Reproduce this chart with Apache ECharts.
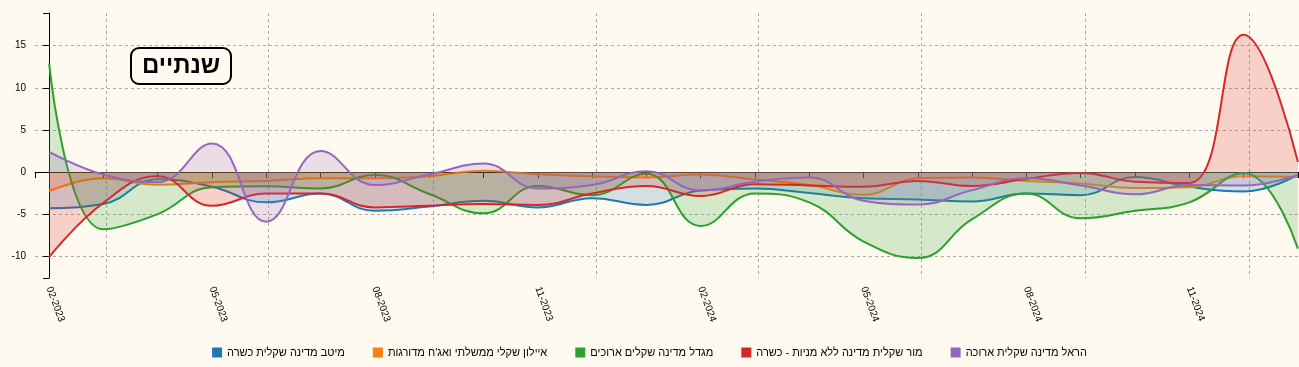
<!DOCTYPE html>
<html><head><meta charset="utf-8">
<script src="https://cdn.jsdelivr.net/npm/echarts@6/dist/echarts.min.js"></script>
<style>html,body{margin:0;padding:0;background:#fffaf0;} #c{width:1299px;height:367px;}</style>
</head><body><div id="c"></div>
<script>
const months = ['02-2023','03-2023','04-2023','05-2023','06-2023','07-2023','08-2023','09-2023','10-2023','11-2023','12-2023','01-2024',
  '02-2024','03-2024','04-2024','05-2024','06-2024','07-2024','08-2024','09-2024','10-2024','11-2024','12-2024','01-2025'];
const seriesNames = ['מיטב מדינה שקלית כשרה','איילון שקלי ממשלתי ואג\'ח מדורגות','מגדל מדינה שקלים ארוכים','מור שקלית מדינה ללא מניות - כשרה','הראל מדינה שקלית ארוכה'];
const meitav = [-4.3,-3.8,-0.85,-1.75,-3.6,-2.55,-4.6,-4.1,-3.4,-4.2,-3.1,-3.9,-2.2,-1.95,-2.5,-3.1,-3.25,-3.5,-2.55,-2.75,-0.6,-1.75,-2.3,-0.35];
const ayalon = [-2.25,-0.75,-1.5,-1.2,-1.05,-0.75,-0.75,-0.5,0.15,-0.25,-0.5,-0.65,-0.3,-0.9,-1.55,-2.7,-0.75,-0.65,-1.05,-1.35,-1.9,-1.8,-0.5,-0.6];
const migdal = [12.9,-6.8,-5.0,-1.8,-1.7,-1.95,-0.35,-2.6,-4.9,-1.65,-2.75,-0.2,-6.4,-2.55,-3.6,-8.25,-10.2,-5.6,-2.55,-5.5,-4.6,-3.6,-0.1,-9.1];
const mor = [-10.1,-3.65,-0.5,-4.0,-2.55,-2.55,-4.2,-4.0,-3.8,-3.9,-2.55,-1.65,-2.85,-1.45,-1.6,-1.75,-1.05,-1.65,-0.8,-0.1,-1.15,-1.3,16.3,1.2];
const harel = [2.4,-0.3,-1.2,3.4,-5.9,2.5,-1.55,-0.3,1.0,-1.95,-1.55,0.1,-2.2,-1.15,-0.65,-3.4,-3.85,-2.15,-0.75,-1.6,-2.65,-1.55,-1.6,-0.35];
const yTicks = [-10,-5,0,5,10,15];
const xLabelIdx = [0,3,6,9,12,15,18,21];
const xGridLines = [1.05,4.04,7.07,10.08,13.06,16.07,19.08,22.1];
const titleText = 'שנתיים';

const colors = ['#1f77b4','#ff7f0e','#2ca02c','#d62728','#9467bd'];
const FONT = "'Liberation Sans', Arial, sans-serif";
const xMin = -0.26, xMax = 23.02, yMin = -12.58, yMax = 18.88;
const allValues = [meitav, ayalon, migdal, mor, harel];
const grid = {left: 35, right: 0, top: 13, bottom: 89};
const axisLineStyle = {color: '#000', width: 1};
const dashed = {color: '#aaa', width: 1, type: [3, 3]};

const chart = echarts.init(document.getElementById('c'), null, {renderer: 'canvas'});
chart.setOption({
  animation: false,
  backgroundColor: '#fffaf0',
  textStyle: {fontFamily: FONT},
  title: {
    text: titleText, left: 131, top: 48,
    borderWidth: 2, borderColor: '#000', borderRadius: 8,
    padding: [6, 11, 6, 11],
    textStyle: {fontSize: 24, fontWeight: 'bold', color: '#000', fontFamily: FONT}
  },
  legend: {
    left: 'center', top: 342, icon: 'rect', itemWidth: 10, itemHeight: 10, itemGap: 28,
    textStyle: {fontSize: 11, color: '#000', fontFamily: FONT},
    data: seriesNames
  },
  grid: grid,
  xAxis: [{
    type: 'value', min: xMin, max: xMax, position: 'bottom',
    axisLine: {show: true, lineStyle: axisLineStyle},
    axisTick: {show: true, length: 6, lineStyle: axisLineStyle, customValues: [xMin].concat(months.map((m, i) => i))},
    axisLabel: {show: true, customValues: xLabelIdx, formatter: v => months[Math.round(v)], rotate: -70,
      fontSize: 10, color: '#000', margin: 9, fontFamily: FONT},
    splitLine: {show: false}
  }, {
    type: 'value', min: xMin, max: xMax, position: 'bottom',
    axisLine: {show: false}, axisLabel: {show: false},
    axisTick: {show: false, customValues: xGridLines},
    splitLine: {show: true, lineStyle: dashed}
  }],
  yAxis: [{
    type: 'value', min: yMin, max: yMax, position: 'left',
    axisLine: {show: true, lineStyle: axisLineStyle},
    axisTick: {show: true, length: 6, lineStyle: axisLineStyle, customValues: [yMin].concat(yTicks, [yMax])},
    axisLabel: {show: true, customValues: yTicks, fontSize: 10, color: '#000', margin: 9, fontFamily: FONT},
    splitLine: {show: false}
  }, {
    type: 'value', min: yMin, max: yMax, position: 'left',
    axisLine: {show: false}, axisLabel: {show: false},
    axisTick: {show: false, customValues: yTicks},
    splitLine: {show: true, lineStyle: dashed}
  }],
  series: seriesNames.map((name, k) => ({
    name: name, type: 'line', xAxisIndex: 0, yAxisIndex: 0,
    smooth: 0.45, symbol: 'none', color: colors[k],
    lineStyle: {width: 2, color: colors[k]},
    areaStyle: {color: colors[k], opacity: 0.2, origin: 'auto'},
    data: allValues[k].map((v, i) => [i, v]),
    z: 2 + k
  }))
});
</script></body></html>
